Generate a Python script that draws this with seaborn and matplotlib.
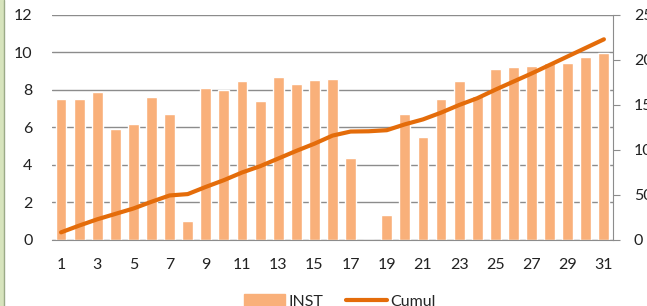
import numpy as np
import pandas as pd
import matplotlib
matplotlib.use("Agg")
import matplotlib.pyplot as plt
import seaborn as sns
from matplotlib.patches import Rectangle
from matplotlib.lines import Line2D

days = list(range(1, 32))
inst = [7.5, 7.5, 7.9, 5.9, 6.2, 7.6, 6.7, 1.0, 8.1, 8.0, 8.5, 7.4, 8.7, 8.3, 8.55, 8.6,
        4.35, 0.0, 1.35, 6.7, 5.5, 7.5, 8.5, 7.7, 9.1, 9.25, 9.3, 9.45, 9.45, 9.75, 9.95]
cumul = [8.5, 16, 23, 29, 35, 42.5, 49.5, 51, 59, 66.5, 75, 82, 90.5, 99, 107, 116,
         120.5, 120.8, 122, 128.5, 134, 141.5, 150, 157.5, 167, 176, 185, 194.5, 204, 213.5, 223]

bar_color = "#F9B07A"
line_color = "#E46C0A"
grid_color = "#8C8C8C"

sns.set_style("white")
plt.rcParams["font.family"] = ["Lato", "DejaVu Sans"]

df = pd.DataFrame({"day": days, "INST": inst, "Cumul": cumul})
df["pos"] = np.arange(len(days))

fig = plt.figure(figsize=(6.47, 3.06), dpi=100)
ax = fig.add_axes([0.0804, 0.2157, 0.8670, 0.7353])

sns.barplot(data=df, x="day", y="INST", color=bar_color, width=0.6,
            saturation=1, ax=ax, zorder=2)
ax.set_ylim(0, 12)
ax.set_yticks(range(0, 13, 2))
ax.set_xlim(-0.5, len(days) - 0.5)
ax.set_xticks(range(0, len(days), 2))
ax.set_xticklabels([str(d) for d in days[::2]])
ax.yaxis.grid(True, color=grid_color, linewidth=1)
ax.set_axisbelow(True)
ax.set_xlabel("")
ax.set_ylabel("")
for s in ["top", "left", "right"]:
    ax.spines[s].set_visible(False)
ax.spines["bottom"].set_color(grid_color)
ax.tick_params(axis="y", length=0, pad=14, labelsize=11.5, colors="#222222")
ax.tick_params(axis="x", length=0, pad=13, labelsize=11.5, colors="#222222")

ax2 = ax.twinx()
sns.lineplot(data=df, x="pos", y="Cumul", color=line_color, linewidth=3,
             ax=ax2, solid_capstyle="round")
ax2.set_ylim(0, 250)
ax2.set_yticks(range(0, 251, 50))
ax2.set_ylabel("")
ax2.set_xlim(-0.5, len(days) - 0.5)
for s in ["top", "left", "bottom"]:
    ax2.spines[s].set_visible(False)
ax2.spines["right"].set_color(grid_color)
ax2.tick_params(axis="y", length=5, color=grid_color, pad=10, labelsize=11.5, colors="#222222")

handles = [Rectangle((0, 0), 1, 1, color=bar_color),
           Line2D([0], [0], color=line_color, linewidth=3)]
fig.legend(handles, ["INST", "Cumul"], loc="center", bbox_to_anchor=(0.525, 0.015),
           ncol=2, frameon=False, fontsize=11.5, handlelength=2.6, handleheight=0.9,
           columnspacing=1.4, handletextpad=0.2)

# left frame strip
fig.patches.append(Rectangle((0, 0), 4 / 647, 1, transform=fig.transFigure,
                             facecolor="#D7E4BD", edgecolor="none"))
fig.lines.append(Line2D([4 / 647, 4 / 647], [0, 1], transform=fig.transFigure,
                        color="#9BAA88", linewidth=1))

fig.savefig("out.png", dpi=100)
